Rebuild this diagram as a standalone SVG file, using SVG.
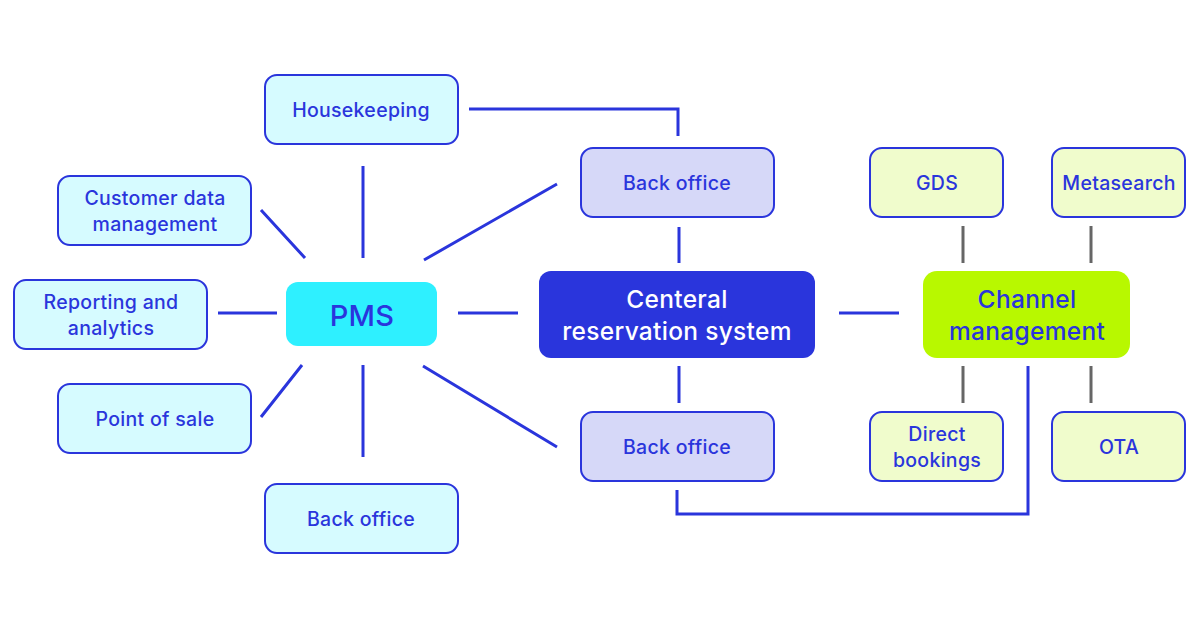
<svg xmlns="http://www.w3.org/2000/svg" width="1200" height="630" viewBox="0 0 1200 630">
<style>
text{font-family:Inter,"Noto Sans",sans-serif;fill:#2a35dc;text-anchor:middle;font-size:19.5px;letter-spacing:0.3px;font-weight:500}
.c rect{fill:#d6fbff;stroke:#2a35dc;stroke-width:2}
.b rect{fill:#d6d8f8;stroke:#2a35dc;stroke-width:2}
.g rect{fill:#f0fccc;stroke:#2a35dc;stroke-width:2}
.l{stroke:#2a35dc;stroke-width:3;fill:none}
.k{stroke:#666;stroke-width:3;fill:none}
.big{font-size:24.5px}
</style>
<rect width="1200" height="630" fill="#fff"/>
<g id="connectors">
<path class="l" d="M469 109H678V136"/>
<path class="l" d="M363 166V258M261 210L305 258M424 260L557 184M218 313H277M458 313H518M261 417L302 365M363 365V457M423 366L557 447M679 227V263M679 366V403M839 313H899"/>
<path class="l" d="M677 490V514H1028V366"/>
<path class="k" d="M963 226V263M963 366V403M1091 226V263M1091 366V403"/>
</g>
<g id="housekeeping" class="c"><rect x="265" y="75" width="193" height="69" rx="12"/><text x="361" y="117">Housekeeping</text></g>
<g id="customer" class="c"><rect x="58" y="176" width="193" height="69" rx="12"/><text x="155" y="205">Customer data</text><text x="155" y="231">management</text></g>
<g id="reporting" class="c"><rect x="14" y="280" width="193" height="69" rx="12"/><text x="111" y="309">Reporting and</text><text x="111" y="335">analytics</text></g>
<g id="pos" class="c"><rect x="58" y="384" width="193" height="69" rx="12"/><text x="155" y="426">Point of sale</text></g>
<g id="backoffice-left" class="c"><rect x="265" y="484" width="193" height="69" rx="12"/><text x="361" y="526">Back office</text></g>
<g id="pms"><rect x="286" y="282" width="151" height="64" rx="12" fill="#2ef0ff"/><text x="362" y="326" style="font-size:29px">PMS</text></g>
<g id="backoffice-top" class="b"><rect x="581" y="148" width="193" height="69" rx="12"/><text x="677" y="190">Back office</text></g>
<g id="backoffice-bottom" class="b"><rect x="581" y="412" width="193" height="69" rx="12"/><text x="677" y="454">Back office</text></g>
<g id="crs"><rect x="539" y="271" width="276" height="87" rx="12" fill="#2a35dc"/><text class="big" x="677" y="308" style="fill:#fff">Centeral</text><text class="big" x="677" y="340" style="fill:#fff">reservation system</text></g>
<g id="channel"><rect x="923" y="271" width="207" height="87" rx="14" fill="#b8f800"/><text class="big" x="1027" y="308">Channel</text><text class="big" x="1027" y="340">management</text></g>
<g id="gds" class="g"><rect x="870" y="148" width="133" height="69" rx="12"/><text x="937" y="190">GDS</text></g>
<g id="metasearch" class="g"><rect x="1052" y="148" width="133" height="69" rx="12"/><text x="1119" y="190">Metasearch</text></g>
<g id="direct" class="g"><rect x="870" y="412" width="133" height="69" rx="12"/><text x="937" y="441">Direct</text><text x="937" y="467">bookings</text></g>
<g id="ota" class="g"><rect x="1052" y="412" width="133" height="69" rx="12"/><text x="1119" y="454">OTA</text></g>
</svg>
